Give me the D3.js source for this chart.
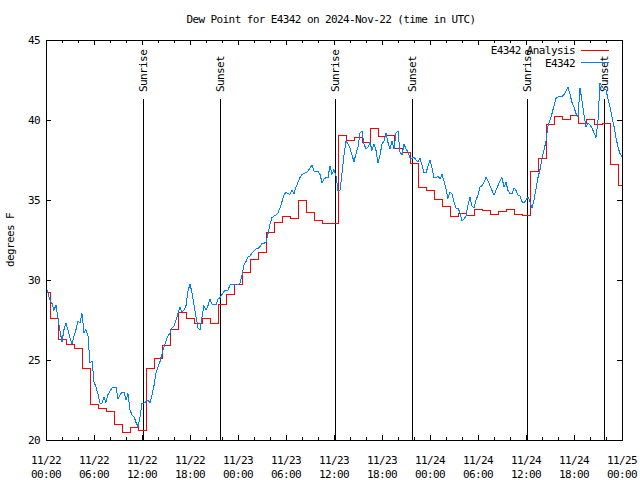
<!DOCTYPE html>
<html>
<head>
<meta charset="utf-8">
<script src="https://cdn.jsdelivr.net/npm/d3@7"></script>
<style>
  html, body { margin: 0; padding: 0; background: #fff; }
  svg { display: block; }
  text { font-family: "DejaVu Sans Mono", "Liberation Mono", monospace; font-size: 11px; letter-spacing: -0.6px; fill: #000; }
</style>
</head>
<body>
<script>
// ---------------- data ----------------
const titleText = "Dew Point for E4342 on 2024-Nov-22 (time in UTC)";
const yLabel = "degrees F";
const startTime = "2024-11-22T00:00:00Z";
const endTime = "2024-11-25T00:00:00Z";

// Analysis: hourly values, 11/22 00:00 .. 11/25 00:00
const analysisValues = [
  29.2, 27.6, 26.3, 26.0, 25.7, 24.5, 22.2, 22.0, 21.8, 21.0,
  20.5, 20.8, 20.6, 24.5, 25.1, 25.9, 26.9, 28.0, 27.6, 27.3,
  27.6, 27.3, 28.5, 29.1, 29.7, 30.5, 31.3, 31.7, 33.0, 33.6,
  34.0, 33.86, 35.0, 34.2, 33.75, 33.55, 33.55, 39.06, 38.7, 38.9,
  38.6, 39.5, 38.96, 39.06, 38.2, 38.0, 37.3, 35.8, 35.6, 35.04,
  34.6, 34.0, 34.17, 34.06, 34.4, 34.375, 34.1, 34.27, 34.4, 34.125,
  34.06, 36.8, 37.6, 39.7, 40.25, 40.06, 40.3, 39.8, 40.04, 39.7,
  39.8, 37.2, 35.9
];

// Station observations: every 15 minutes, 11/22 00:00 .. 11/25 00:00
const stationValues = [
  29.6, 29.17, 28.75, 28.54, 28.1, 28.45, 27.6, 26.8, 26.15, 26.9,
  27.3, 26.85, 26.4, 26.0, 26.5, 26.9, 27.45, 27.3, 27.9, 26.7,
  26.9, 26.5, 24.8, 24.95, 23.65, 23.3, 22.85, 22.3, 22.3, 22.7,
  22.35, 22.85, 23.05, 23.25, 23.3, 23.3, 22.6, 22.8, 23.0, 23.0,
  22.5, 22.9, 21.9, 21.55, 21.46, 21.1, 20.83, 21.46, 22.3, 22.3,
  22.4, 22.5, 22.3, 22.8, 23.4, 24.2, 24.55, 24.9, 25.4, 25.8,
  26.2, 26.5, 26.7, 27.0, 27.1, 27.5, 27.9, 28.3, 28.0, 28.1,
  28.4, 29.3, 29.75, 29.2, 28.45, 27.7, 27.0, 26.9, 27.7, 28.4,
  28.1, 28.4, 28.8, 28.5, 28.44, 28.44, 28.8, 28.9, 29.1, 29.3,
  29.35, 29.35, 29.7, 29.7, 29.75, 29.75, 29.7, 29.8, 30.3, 30.95,
  31.15, 31.45, 31.5, 31.7, 31.8, 31.95, 31.95, 32.1, 32.3, 32.3,
  32.35, 32.9, 33.5, 33.9, 34.0, 34.06, 34.2, 34.5, 34.9, 35.3,
  35.5, 35.4, 35.35, 35.6, 35.4, 35.8, 36.1, 36.4, 36.6, 36.67,
  36.7, 36.8, 37.0, 37.2, 36.8, 36.8, 36.8, 36.6, 36.1, 36.3,
  36.4, 36.4, 37.15, 36.6, 36.9, 36.5, 35.6, 35.6, 36.67, 37.8,
  38.7, 38.5, 38.23, 37.8, 37.4, 37.9, 38.3, 39.2, 39.3, 38.5,
  38.2, 38.3, 38.6, 38.1, 38.5, 38.1, 37.3, 37.8, 38.5, 38.7,
  39.2, 38.6, 38.2, 38.7, 38.2, 39.2, 39.3, 38.0, 37.8, 38.5,
  38.2, 38.0, 37.6, 37.6, 37.7, 37.5, 37.4, 37.6, 37.2, 36.7,
  36.7, 37.1, 37.5, 37.0, 36.4, 36.4, 36.5, 36.3, 36.6, 36.2,
  35.7, 35.1, 35.5, 35.4, 34.9, 34.5, 34.5, 34.2, 33.7, 33.8,
  34.0, 34.7, 35.2, 34.6, 34.5, 35.0, 35.3, 35.8, 35.9, 36.1,
  36.4, 36.2, 35.9, 35.6, 35.3, 35.6, 35.9, 36.2, 36.4, 35.8,
  36.1, 35.6, 35.4, 35.4, 35.75, 35.6, 35.3, 35.25, 34.9, 34.8,
  35.0, 35.2, 34.9, 34.5, 35.0, 35.7, 36.4, 36.9, 37.6, 38.1,
  38.7, 39.6, 40.0, 40.4, 40.9, 41.35, 41.45, 41.45, 41.45, 41.6,
  41.8, 42.05, 41.6, 41.1, 40.8, 40.4, 40.2, 42.0, 41.2, 40.3,
  39.6, 39.8, 39.7, 39.5, 39.2, 38.9, 40.0, 42.3, 42.1, 41.9,
  41.9, 41.3, 40.8, 40.2, 39.6, 38.9, 38.3, 37.9, 37.7
];

const sunTimes = ["2024-11-22T12:06:00Z", "2024-11-22T21:48:00Z", "2024-11-23T12:06:00Z",
                  "2024-11-23T21:48:00Z", "2024-11-24T12:06:00Z", "2024-11-24T21:48:00Z"];
const sunLabels = ["Sunrise", "Sunset", "Sunrise", "Sunset", "Sunrise", "Sunset"];

const yTicks = [20, 25, 30, 35, 40, 45];
const seriesNames = ["E4342 Analysis", "E4342"];
const seriesColors = ["#ff0000", "#0080ff"];

// ---------------- chart ----------------
const W = 640, H = 480;
const L = 46, R = 622, T = 40, B = 440;

const svg = d3.select("body").append("svg").attr("width", W).attr("height", H);
svg.append("rect").attr("width", W).attr("height", H).attr("fill", "#fff");

const t0 = new Date(startTime), t1 = new Date(endTime);
const x = d3.scaleUtc().domain([t0, t1]).range([L, R]);
const y = d3.scaleLinear().domain([20, 45]).range([B, T]);

const HOUR = 3600e3;
const anaData = analysisValues.map((v, i) => ({ t: new Date(+t0 + i * HOUR), v }));
const staData = stationValues.map((v, i) => ({ t: new Date(+t0 + i * HOUR / 4), v }));

// ticks (inward), bottom & top, major 6h, minor 2h
const crisp = g => g.attr("shape-rendering", "crispEdges");
function tickAxis(gen, ty) {
  const g = svg.append("g").attr("transform", ty).call(gen).call(crisp);
  g.select(".domain").remove();
  g.selectAll("text").remove();
  g.selectAll("line").attr("stroke", "#000");
  return g;
}
tickAxis(d3.axisBottom(x).ticks(d3.utcHour.every(2)).tickSizeInner(-3).tickSizeOuter(0), `translate(0,${B})`);
tickAxis(d3.axisBottom(x).ticks(d3.utcHour.every(6)).tickSizeInner(-5).tickSizeOuter(0), `translate(0,${B})`);
tickAxis(d3.axisTop(x).ticks(d3.utcHour.every(2)).tickSizeInner(-3).tickSizeOuter(0), `translate(0,${T})`);
tickAxis(d3.axisTop(x).ticks(d3.utcHour.every(6)).tickSizeInner(-5).tickSizeOuter(0), `translate(0,${T})`);
tickAxis(d3.axisLeft(y).tickValues(yTicks).tickSizeInner(-5).tickSizeOuter(0), `translate(${L},0)`);
tickAxis(d3.axisRight(y).tickValues(yTicks).tickSizeInner(-5).tickSizeOuter(0), `translate(${R},0)`);

// y tick labels
svg.append("g").selectAll("text").data(yTicks).join("text")
  .attr("x", L - 6).attr("y", d => y(d) + 4)
  .attr("text-anchor", "end")
  .text(d => d);

// x tick labels (two lines)
const xMajor = x.ticks(d3.utcHour.every(6));
const fmtD = d3.utcFormat("%m/%d"), fmtH = d3.utcFormat("%H:%M");
const xl = svg.append("g").selectAll("g").data(xMajor).join("g");
xl.append("text").attr("x", d => x(d)).attr("y", 464).attr("text-anchor", "middle").text(d => fmtD(d));
xl.append("text").attr("x", d => x(d)).attr("y", 478).attr("text-anchor", "middle").text(d => fmtH(d));

// sunrise / sunset markers
const sun = svg.append("g");
sunTimes.forEach((s, i) => {
  const sx = Math.round(x(new Date(s)));
  sun.append("line").attr("x1", sx).attr("x2", sx).attr("y1", 99).attr("y2", B)
    .attr("stroke", "#000").attr("stroke-width", 1).call(crisp);
  sun.append("text").attr("transform", `translate(${sx + 4},92) rotate(-90)`)
    .attr("text-anchor", "start").text(sunLabels[i]);
});

// data lines
const anaLine = d3.line().x(d => x(d.t)).y(d => y(d.v)).curve(d3.curveStep);
const staLine = d3.line().x(d => x(d.t)).y(d => y(d.v));
svg.append("path").datum(anaData).attr("d", anaLine)
  .attr("fill", "none").attr("stroke", seriesColors[0]).attr("stroke-width", 1).call(crisp);
svg.append("path").datum(staData).attr("d", staLine)
  .attr("fill", "none").attr("stroke", seriesColors[1]).attr("stroke-width", 1).call(crisp);

// border
svg.append("rect").attr("x", L).attr("y", T).attr("width", R - L).attr("height", B - T)
  .attr("fill", "none").attr("stroke", "#000").attr("stroke-width", 1).call(crisp);

// legend
const lg = svg.append("g");
seriesNames.forEach((n, i) => {
  const ly = 50 + i * 12.5;
  lg.append("text").attr("x", 575).attr("y", ly + 4).attr("text-anchor", "end").text(n);
  lg.append("line").attr("x1", 581).attr("x2", 609).attr("y1", ly).attr("y2", ly)
    .attr("stroke", seriesColors[i]).attr("stroke-width", 1).call(crisp);
});

// title & axis label
svg.append("text").attr("x", 331).attr("y", 23).attr("text-anchor", "middle").text(titleText);
svg.append("text").attr("transform", "translate(14,240) rotate(-90)").attr("text-anchor", "middle").text(yLabel);
</script>
</body>
</html>
